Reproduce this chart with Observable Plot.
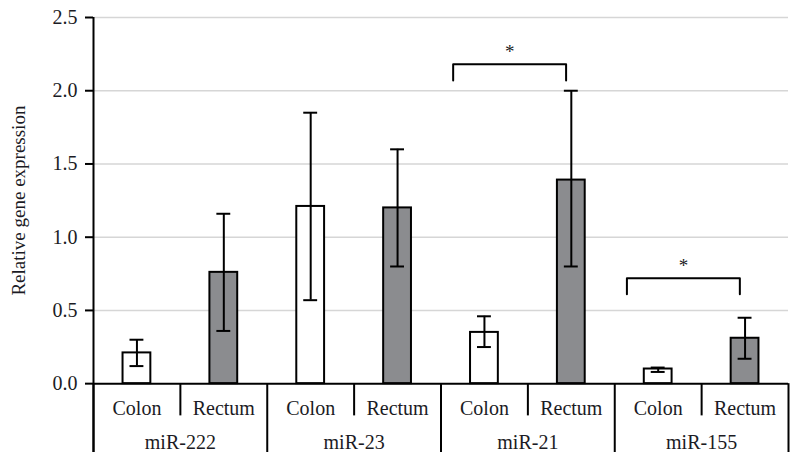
<!DOCTYPE html>
<html><head><meta charset="utf-8">
<script src="https://cdn.jsdelivr.net/npm/d3@7"></script>
<script src="https://cdn.jsdelivr.net/npm/@observablehq/plot@0.6"></script>
<style>body{margin:0;background:#fff}</style>
</head><body><div id="chart"></div>
<script>
// ---- data ----
const groups = ["miR-222", "miR-23", "miR-21", "miR-155"];
const tissues = ["Colon", "Rectum"];
const means = [0.21, 0.76, 1.21, 1.20, 0.35, 1.39, 0.10, 0.31];
const lower = [0.12, 0.36, 0.57, 0.80, 0.25, 0.80, 0.08, 0.17];
const upper = [0.30, 1.16, 1.85, 1.60, 0.46, 2.00, 0.11, 0.45];
const yTicks = [0, 0.5, 1.0, 1.5, 2.0, 2.5];
const yTitle = "Relative gene expression";
const sigGroups = ["miR-21", "miR-155"];
const sigLevels = [2.18, 0.72];
const sigLabels = ["*", "*"];

// ---- derived tables ----
const nT = tissues.length;
const rows = [];
groups.forEach((g, gi) => tissues.forEach((t, ti) => {
  const i = gi * nT + ti;
  rows.push({group: g, tissue: t, pos: i + 0.5, mean: means[i], lo: lower[i], hi: upper[i]});
}));
const nCat = rows.length;
const barHalf = 0.16, capHalf = 0.08;
const yMin = -0.47;
const subLabelY = -0.17, groupLabelY = -0.405, subDivY = -0.22;

const subDividers = d3.range(1, nCat, nT).map(x => ({x}));
const groupDividers = d3.range(0, nCat + 1, nT).map(x => ({x}));
const groupLabels = groups.map((g, gi) => ({g, x: gi * nT + nT / 2}));

const legDepth = 0.11;
const brackets = [];
const stars = [];
sigGroups.forEach((g, k) => {
  const gi = groups.indexOf(g);
  const x1 = gi * nT + 0.14, x2 = gi * nT + 1.44, y = sigLevels[k];
  [[x1, y - legDepth], [x1, y], [x2, y], [x2, y - legDepth]].forEach(([x, yy]) => brackets.push({k, x, y: yy}));
  stars.push({x: (x1 + x2) / 2, y, label: sigLabels[k]});
});

const font = "'Liberation Serif', 'Times New Roman', serif";
const ink = "#1b1b24";

const chart = Plot.plot({
  width: 799,
  height: 463,
  marginLeft: 93,
  marginRight: 11,
  marginTop: 17,
  marginBottom: 11,
  style: {fontFamily: font, background: "white"},
  x: {domain: [0, nCat], axis: null},
  y: {domain: [yMin, yTicks[yTicks.length - 1]], axis: null},
  color: {domain: tissues, range: ["white", "#8b8c8f"]},
  marks: [
    Plot.ruleY(yTicks.filter(d => d > 0), {x1: 0, x2: nCat, stroke: "#d6d6d6", strokeWidth: 1.5}),
    Plot.axisY({ticks: yTicks, tickFormat: d3.format(".1f"), tickSize: 8, tickPadding: 8, fontSize: 20, fill: ink, strokeWidth: 2, stroke: "black", label: null}),
    Plot.text([yTitle], {x: 0, y: (yTicks[0] + yTicks[yTicks.length - 1]) / 2, rotate: -90, dx: -75, fontSize: 19, fill: ink, textAnchor: "middle"}),
    Plot.rect(rows, {x1: d => d.pos - barHalf, x2: d => d.pos + barHalf, y1: 0, y2: "mean", fill: "tissue", stroke: "black", strokeWidth: 2}),
    Plot.ruleX(rows, {x: "pos", y1: "lo", y2: "hi", stroke: "black", strokeWidth: 2}),
    Plot.ruleY(rows, {y: "hi", x1: d => d.pos - capHalf, x2: d => d.pos + capHalf, stroke: "black", strokeWidth: 2}),
    Plot.ruleY(rows, {y: "lo", x1: d => d.pos - capHalf, x2: d => d.pos + capHalf, stroke: "black", strokeWidth: 2}),
    // axes lines
    Plot.ruleX([0], {y1: yMin, y2: yTicks[yTicks.length - 1], stroke: "black", strokeWidth: 2}),
    Plot.ruleY([0], {x1: 0, x2: nCat, stroke: "black", strokeWidth: 2}),
    Plot.ruleX(groupDividers, {x: "x", y1: yMin, y2: 0, stroke: "black", strokeWidth: 2}),
    Plot.ruleX(subDividers, {x: "x", y1: subDivY, y2: 0, stroke: "black", strokeWidth: 2}),
    Plot.text(rows, {x: "pos", y: subLabelY, text: "tissue", fontSize: 20, fill: ink}),
    Plot.text(groupLabels, {x: "x", y: groupLabelY, text: "g", fontSize: 20, fill: ink}),
    // significance
    Plot.line(brackets, {x: "x", y: "y", z: "k", stroke: "black", strokeWidth: 2, curve: "linear"}),
    Plot.text(stars, {x: "x", y: "y", text: "label", dy: -12, fontSize: 19, fill: ink})
  ]
});
document.getElementById("chart").appendChild(chart);
</script>
</body></html>
